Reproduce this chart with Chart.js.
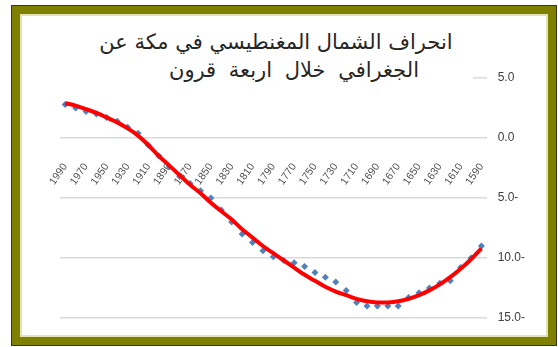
<!DOCTYPE html>
<html>
<head>
<meta charset="utf-8">
<script src="https://cdn.jsdelivr.net/npm/chart.js@4/dist/chart.umd.min.js"></script>
<style>
  html, body { margin: 0; padding: 0; background: #fff; }
  body { width: 558px; height: 347px; position: relative; overflow: hidden; }
  #frame {
    position: absolute; left: 11px; top: 5px; width: 546px; height: 341px;
    box-sizing: border-box; border: 1px solid #3a3a00;
    box-shadow: inset 0 0 0 8px #808000, inset 0 0 0 10px #e2e2b4;
  }
  #chart { position: absolute; left: 0; top: 0; }
  #title {
    position: absolute; left: 55px; top: 28px; width: 394px; height: 62px;
    padding-left: 24px; background: #fff;
    direction: rtl; text-align: center;
    font-family: "DejaVu Sans", sans-serif; font-size: 21px; line-height: 28px; color: #262626;
  }
  #title .l2 { padding-left: 36px; word-spacing: 6px; }
</style>
</head>
<body>
<div id="frame"></div>
<canvas id="chart" width="558" height="347"></canvas>
<div id="title"><div>انحراف الشمال المغنطيسي في مكة عن</div><div class="l2">الجغرافي خلال اربعة قرون</div></div>
<script>
// years, newest first (the axis runs right-to-left in time)
const years = [1990, 1980, 1970, 1960, 1950, 1940, 1930, 1920, 1910, 1900,
               1890, 1880, 1870, 1860, 1850, 1840, 1830, 1820, 1810, 1800,
               1790, 1780, 1770, 1760, 1750, 1740, 1730, 1720, 1710, 1700,
               1690, 1680, 1670, 1660, 1650, 1640, 1630, 1620, 1610, 1600, 1590];

// measured declination (degrees, east positive)
const declination = [2.8, 2.5, 2.2, 2.0, 1.7, 1.4, 0.9, 0.4, -0.6, -1.5,
                     -2.4, -3.2, -3.8, -4.4, -5.0, -6.0, -7.0, -8.0, -8.7, -9.4,
                     -9.9, -10.2, -10.4, -10.7, -11.2, -11.6, -12.0, -12.7, -13.7, -14.0,
                     -14.0, -14.0, -14.0, -13.3, -12.9, -12.5, -12.1, -11.9, -10.8, -10.0, -9.0];

// red trend curve
const trend = [2.9, 2.7, 2.4, 2.1, 1.7, 1.3, 0.8, 0.2, -0.6, -1.5,
               -2.3, -3.1, -3.9, -4.6, -5.4, -6.1, -6.8, -7.6, -8.3, -9.0,
               -9.6, -10.2, -10.8, -11.4, -11.9, -12.4, -12.8, -13.1, -13.4, -13.6,
               -13.7, -13.7, -13.6, -13.4, -13.1, -12.7, -12.2, -11.6, -10.9, -10.1, -9.2];

const yTicks = [5, 0, -5, -10, -15];

function fmtTick(v) {
    // Excel RTL style: minus sign after the number
    return Math.abs(v).toFixed(1) + (v < 0 ? '-' : '');
}

new Chart(document.getElementById('chart'), {
    data: {
        labels: years,
        datasets: [{
            type: 'line',
            data: trend,
            borderColor: '#ff0000',
            borderWidth: 4,
            pointRadius: 0,
            tension: 0.4,
            order: 0
        }, {
            type: 'line',
            data: declination,
            showLine: false,
            pointStyle: 'rectRot',
            pointRadius: 3.5,
            backgroundColor: '#4f81bd',
            borderColor: '#4f81bd',
            borderWidth: 0,
            order: 1
        }]
    },
    options: {
        responsive: false,
        animation: false,
        layout: { padding: { left: 60, top: 78, right: 22, bottom: 29 } },
        plugins: { legend: { display: false }, tooltip: { enabled: false } },
        scales: {
            x: {
                type: 'category',
                position: { y: 0 },
                offset: true,
                grid: { display: false, drawTicks: false },
                border: { display: false },
                ticks: {
                    autoSkip: false,
                    minRotation: 55,
                    maxRotation: 55,
                    padding: 23,
                    color: '#505050',
                    font: { family: 'Liberation Sans', size: 10.5 },
                    callback: (v, i) => i % 2 === 0 ? String(years[i]) : ''
                }
            },
            y: {
                position: 'right',
                min: yTicks[yTicks.length - 1],
                max: yTicks[0],
                afterBuildTicks: axis => { axis.ticks = yTicks.map(v => ({ value: v })); },
                grid: { color: '#d9d9d9', lineWidth: 1.5, drawTicks: false },
                border: { display: false },
                ticks: {
                    padding: 11,
                    color: '#404040',
                    font: { family: 'Liberation Sans', size: 12 },
                    callback: v => fmtTick(v)
                }
            }
        }
    }
});
</script>
</body>
</html>
